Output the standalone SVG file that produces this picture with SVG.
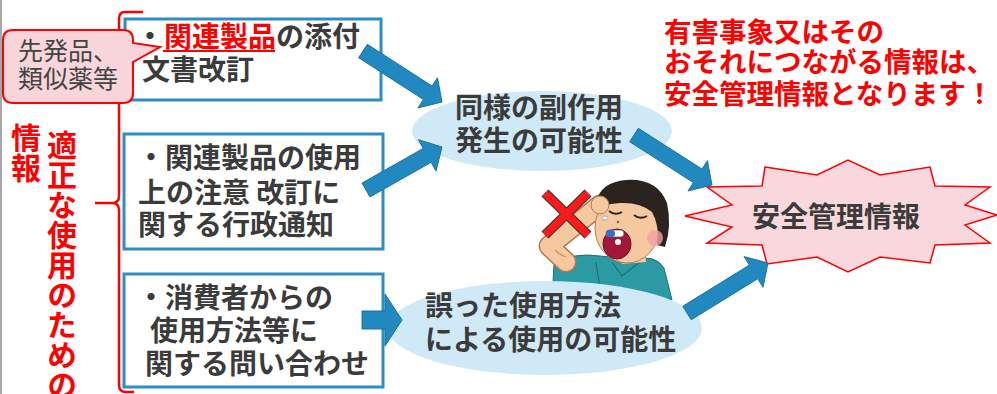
<svg xmlns="http://www.w3.org/2000/svg" width="997" height="394" viewBox="0 0 997 394">
  <style>
    .jp { font-family: "Noto Sans CJK JP", "Noto Sans", sans-serif; }
    .dark { fill: #3b3b3b; font-weight: 700; font-size: 28px; }
    .red { fill: #ff0000; font-weight: 700; }
    .box { fill: #ffffff; stroke: #2e8ec4; stroke-width: 3; }
    .oval { fill: #d0e9f6; }
    .arrow { fill: #2189c0; stroke: #1b72a3; stroke-width: 1; stroke-linejoin: miter; }
    .vtext { writing-mode: vertical-rl; font-size: 30px; }
  </style>

  <rect width="997" height="394" fill="#ffffff"/>
  <line x1="1" y1="0" x2="1" y2="394" stroke="#8a8a8a" stroke-width="1.5"/>

  <!-- brace grouping the three information sources -->
  <g id="brace">
    <path d="M143 12 H125 Q119 12 119 19 V196 Q119 203 112 203 H95 M112 203 Q119 203 119 210 V385 Q119 392 126 392 H134" fill="none" stroke="#ff0000" stroke-width="2.5"/>
    <text class="jp red vtext" x="62" y="130">適正な使用のための</text>
    <text class="jp red vtext" x="26" y="123">情報</text>
  </g>

  <!-- source boxes -->
  <g id="box-labeling">
    <rect class="box" x="125" y="19" width="256" height="81"/>
    <text class="jp dark" x="136" y="47">・<tspan fill="#ff0000">関連製品</tspan>の添付</text>
    <line x1="163" y1="51" x2="275" y2="51" stroke="#ff0000" stroke-width="2"/>
    <text class="jp dark" x="142" y="80">文書改訂</text>
  </g>

  <g id="box-notice">
    <rect class="box" x="124" y="134" width="259" height="115"/>
    <text class="jp dark" x="137" y="168">・関連製品の使用</text>
    <text class="jp dark" x="138" y="203">上の注意 改訂に</text>
    <text class="jp dark" x="138" y="235">関する行政通知</text>
  </g>

  <g id="box-inquiry">
    <rect class="box" x="124" y="274" width="259" height="113"/>
    <text class="jp dark" x="137" y="308">・消費者からの</text>
    <text class="jp dark" x="150" y="341">使用方法等に</text>
    <text class="jp dark" x="145" y="374">関する問い合わせ</text>
  </g>

  <!-- callout on the first box -->
  <g id="callout">
    <path d="M13 30 H123 Q133 30 133 40 V43 L160 47 L133 62 V93 Q133 103 123 103 H13 Q3 103 3 93 V40 Q3 30 13 30 Z" fill="#f7d5da" stroke="#ff0000" stroke-width="2"/>
    <text class="jp" x="18" y="60" font-size="25" fill="#444444">先発品、</text>
    <text class="jp" x="18" y="88" font-size="25" fill="#444444">類似薬等</text>
  </g>

  <!-- illustration: boy swallowing a capsule -->
  <g id="person">
    <path d="M554 264 Q572 252 600 256 L632 259 Q656 254 664 268 L672 300 L552 300 Z" fill="#2b9aa2" stroke="#1e6f75" stroke-width="1"/>
    <path d="M612 262 L622 276 L640 262 M596 262 L600 290" fill="none" stroke="#1e6f75" stroke-width="1.2"/>
    <path d="M620 252 L645 250 L646 262 L622 264 Z" fill="#f6c8a0"/>
    <path d="M566 262 L549 246 L600 205" fill="none" stroke="#b27a58" stroke-width="21" stroke-linecap="round" stroke-linejoin="round"/>
    <path d="M566 262 L549 246 L600 205" fill="none" stroke="#f6c8a0" stroke-width="18" stroke-linecap="round" stroke-linejoin="round"/>
    <path d="M555 250 Q560 255 566 257" fill="none" stroke="#d98a5a" stroke-width="1.2"/>
    <ellipse cx="627" cy="228" rx="32" ry="35" fill="#f6c8a0" stroke="#b27a58" stroke-width="1"/>
    <path d="M596 202 Q601 182 626 180 Q657 178 667 203 Q672 226 665 247 L657 245 Q660 226 652 212 Q640 202 620 203 Q606 204 596 207 Z" fill="#2a2320"/>
    <circle cx="655" cy="238" r="8" fill="#f2a0a0" opacity="0.8"/>
    <circle cx="600" cy="205" r="9" fill="#f6c8a0" stroke="#b27a58" stroke-width="1"/>
    <path d="M609 211 Q615 216 622 212 M634 215 Q640 220 647 216" fill="none" stroke="#2a2320" stroke-width="2"/>
    <circle cx="618" cy="222" r="1.2" fill="#8a5a40"/>
    <ellipse cx="605" cy="218" rx="3" ry="2" fill="#ffffff" stroke="#999999" stroke-width="0.8"/>
    <ellipse cx="617" cy="244" rx="14" ry="15" fill="#a3173a" stroke="#6d0f26" stroke-width="1"/>
    <rect x="606" y="230" width="18" height="7" rx="3.5" fill="#ffffff" stroke="#555555" stroke-width="0.8"/>
    <rect x="606" y="230" width="9" height="7" rx="3.5" fill="#2f6fd0"/>
    <circle cx="618" cy="242" r="3" fill="#ffffff"/>
  </g>

  <!-- "wrong use" mark -->
  <g id="cross">
    <path d="M545 193 L588 235 M588 193 L545 235" stroke="#3a3a3a" stroke-width="10" stroke-linecap="butt"/>
    <path d="M545 193 L588 235 M588 193 L545 235" stroke="#ff1a1a" stroke-width="7.5" stroke-linecap="butt"/>
  </g>

  <!-- possibility ovals -->
  <g id="oval-side-effect">
    <ellipse class="oval" cx="542" cy="131" rx="130" ry="40"/>
    <text class="jp dark" x="455" y="118">同様の副作用</text>
    <text class="jp dark" x="455" y="151">発生の可能性</text>
  </g>

  <g id="oval-misuse">
    <ellipse class="oval" cx="545" cy="328" rx="157" ry="47"/>
    <text class="jp dark" x="425" y="316">誤った使用方法</text>
    <text class="jp dark" x="425" y="350">による使用の可能性</text>
  </g>

  <!-- safety information burst -->
  <g id="safety-info">
    <polygon points="765,167 817,175 848,160 880,175 930,167 935,186 990,187 965,205 997,215 965,225 990,243 935,245 930,263 880,257 848,272 817,257 767,264 762,245 707,243 732,227 685,216 732,205 707,187 762,186" fill="#f8d8dd" stroke="#ff0000" stroke-width="1.5"/>
    <text class="jp dark" x="836" y="227" font-size="29" text-anchor="middle">安全管理情報</text>
  </g>

  <!-- connectors -->
  <g id="connectors">
    <polygon class="arrow" points="358.66,57.72 423.38,99.50 417.96,107.90 442,102 437.48,77.66 432.06,86.06 367.34,44.28"/>
    <polygon class="arrow" points="369.94,196.96 431.14,162.33 436.06,171.04 442,147 418.34,139.70 423.26,148.41 362.06,183.04"/>
    <polygon class="arrow" points="362,329 385,329 385,346 402,320 385,294 385,311 362,311"/>
    <polygon class="arrow" points="629.68,141.74 693.37,182.57 687.98,190.98 712,185 707.40,160.68 702.01,169.09 638.32,128.26"/>
    <polygon class="arrow" points="691.20,319.81 757.73,278.74 762.99,287.25 768,263 744.07,256.61 749.33,265.12 682.80,306.19"/>
  </g>

  <!-- message -->
  <g id="message">
    <text class="jp red" x="664" y="42" font-size="27.5">有害事象又はその</text>
    <text class="jp red" x="664" y="72" font-size="27.5">おそれにつながる情報は、</text>
    <text class="jp red" x="664" y="104" font-size="27.5">安全管理情報となります！</text>
  </g>
</svg>
